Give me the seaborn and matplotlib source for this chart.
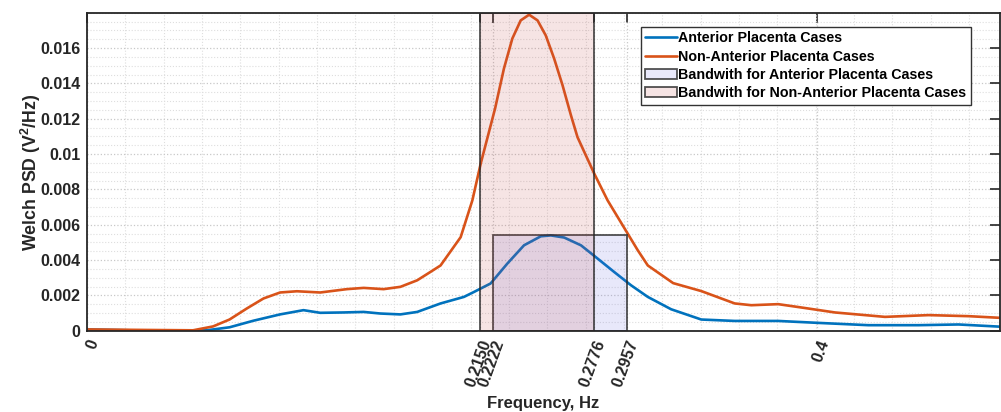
import matplotlib
matplotlib.use("Agg")
import matplotlib.pyplot as plt
from matplotlib.patches import Rectangle
from matplotlib.ticker import MultipleLocator
import pandas as pd
import seaborn as sns

# values
freq_ant = [0.0, 0.0325, 0.0654, 0.078, 0.091, 0.1057, 0.1185, 0.1277, 0.1405, 0.1515,
            0.1606, 0.1716, 0.1808, 0.1936, 0.2064, 0.2119, 0.221, 0.2302, 0.2393, 0.2485,
            0.254, 0.2613, 0.2705, 0.2796, 0.2887, 0.2979, 0.3071, 0.3199, 0.3364, 0.3547,
            0.3785, 0.4004, 0.4279, 0.4553, 0.4773, 0.5011]
psd_ant = [0.00008, 0.00001, 0.00003, 0.0002, 0.00057, 0.00093, 0.00117, 0.00102, 0.00104, 0.00107,
           0.00098, 0.00093, 0.00107, 0.00155, 0.00192, 0.0022, 0.00268, 0.00381, 0.00484, 0.00535,
           0.0054, 0.00528, 0.00484, 0.00409, 0.00333, 0.00258, 0.00192, 0.00122, 0.00064, 0.00056,
           0.00056, 0.00045, 0.00032, 0.00032, 0.00036, 0.00023]

freq_non = [0.0, 0.0325, 0.058, 0.069, 0.078, 0.0874, 0.0966, 0.1057, 0.1149, 0.1277,
            0.1423, 0.1515, 0.1624, 0.1716, 0.1808, 0.188, 0.1936, 0.2046, 0.211, 0.2156,
            0.2235, 0.2283, 0.2329, 0.2375, 0.2421, 0.2467, 0.2512, 0.2558, 0.2604, 0.265,
            0.2686, 0.2778, 0.2851, 0.2961, 0.3016, 0.3071, 0.321, 0.3364, 0.3547, 0.3638,
            0.3785, 0.3913, 0.4096, 0.437, 0.4608, 0.4828, 0.5011]
psd_non = [0.00008, 0.00005, 0.00003, 0.00025, 0.00064, 0.00126, 0.00183, 0.00217, 0.00224, 0.00217,
           0.00236, 0.00243, 0.00236, 0.00249, 0.00286, 0.00333, 0.0037, 0.0053, 0.00738, 0.00947,
           0.0126, 0.01484, 0.01654, 0.01757, 0.01789, 0.01757, 0.01672, 0.01541, 0.0139, 0.0122,
           0.01096, 0.00889, 0.00738, 0.0055, 0.00456, 0.0037, 0.0027, 0.00225, 0.00155, 0.00145,
           0.00151, 0.00132, 0.00104, 0.00079, 0.00089, 0.00083, 0.00073]

series_names = ["Anterior Placenta Cases", "Non-Anterior Placenta Cases"]
band_names = ["Bandwith for Anterior Placenta Cases", "Bandwith for Non-Anterior Placenta Cases"]
band_lo = [0.2222, 0.2150]
band_hi = [0.2957, 0.2776]
band_top = [0.0054, 0.018]

xtick_values = [0, 0.2150, 0.2222, 0.2776, 0.2957, 0.4]
xtick_labels = ["0", "0.2150", "0.2222", "0.2776", "0.2957", "0.4"]
ytick_values = [0, 0.002, 0.004, 0.006, 0.008, 0.01, 0.012, 0.014, 0.016]
ytick_labels = ["0", "0.002", "0.004", "0.006", "0.008", "0.01", "0.012", "0.014", "0.016"]

line_colors = ["#0072BD", "#D95319"]
band_faces = [(102/255, 102/255, 222/255, 0.15), (195/255, 75/255, 75/255, 0.15)]

sns.set_style("white")
plt.rcParams["font.family"] = ["Liberation Sans", "DejaVu Sans"]
plt.rcParams["font.weight"] = "bold"
plt.rcParams["mathtext.fontset"] = "custom"
plt.rcParams["mathtext.bf"] = "Liberation Sans:bold"
plt.rcParams["mathtext.rm"] = "Liberation Sans:bold"

txt = "#262626"

fig = plt.figure(figsize=(10.01, 4.12), dpi=100)
ax = fig.add_axes([0.087, 0.197, 0.912, 0.772])

df_ant = pd.DataFrame({"f": freq_ant, "p": psd_ant})
df_non = pd.DataFrame({"f": freq_non, "p": psd_non})
sns.lineplot(data=df_ant, x="f", y="p", color=line_colors[0], lw=1.9, ax=ax, zorder=2)
sns.lineplot(data=df_non, x="f", y="p", color=line_colors[1], lw=1.9, ax=ax, zorder=2)

patches = []
for lo, hi, top, fc in zip(band_lo, band_hi, band_top, band_faces):
    r = Rectangle((lo, 0), hi - lo, top, facecolor=fc,
                  edgecolor=(0.15, 0.15, 0.15, 0.8), lw=1.3, zorder=3)
    ax.add_patch(r)
    patches.append(r)

ax.set_xlim(0, 0.5)
ax.set_ylim(0, 0.018)
ax.set_xticks(xtick_values)
ax.set_xticklabels(xtick_labels, rotation=70, ha="right", rotation_mode="anchor")
ax.set_yticks(ytick_values)
ax.set_yticklabels(ytick_labels)
ax.yaxis.set_minor_locator(MultipleLocator(0.0005))
ax.xaxis.set_minor_locator(MultipleLocator(0.021))

ax.tick_params(which="major", direction="in", length=7, width=1.2, color=txt,
               top=True, right=True, labelsize=11.5, labelcolor=txt, pad=5)
ax.tick_params(which="minor", length=0)
for lab in ax.get_xticklabels() + ax.get_yticklabels():
    lab.set_fontweight("bold")

ax.grid(which="major", ls=":", color="#c8c8c8", lw=0.9)
ax.grid(which="minor", ls=":", color="#dedede", lw=0.8)
ax.set_axisbelow(True)

for sp in ax.spines.values():
    sp.set_color(txt)
    sp.set_linewidth(1.3)

ax.set_xlabel("Frequency, Hz", fontsize=12, fontweight="bold", color=txt, labelpad=5)
ax.set_ylabel(r"Welch PSD (V$^\mathbf{2}$/Hz)", fontsize=12.8, fontweight="bold",
              color=txt, labelpad=-2)

handles = ax.get_lines()[:2] + patches
leg = ax.legend(handles, series_names + band_names, loc="upper right",
                bbox_to_anchor=(0.968, 0.955), borderaxespad=0, fancybox=False,
                framealpha=1, edgecolor="#333333", handlelength=2.2,
                handletextpad=0.1, labelspacing=0.3, borderpad=0.3,
                prop={"weight": "bold", "size": 10.3})
leg.get_frame().set_linewidth(1.0)
for t in leg.get_texts():
    t.set_color("black")

fig.savefig("out.png", dpi=100)
